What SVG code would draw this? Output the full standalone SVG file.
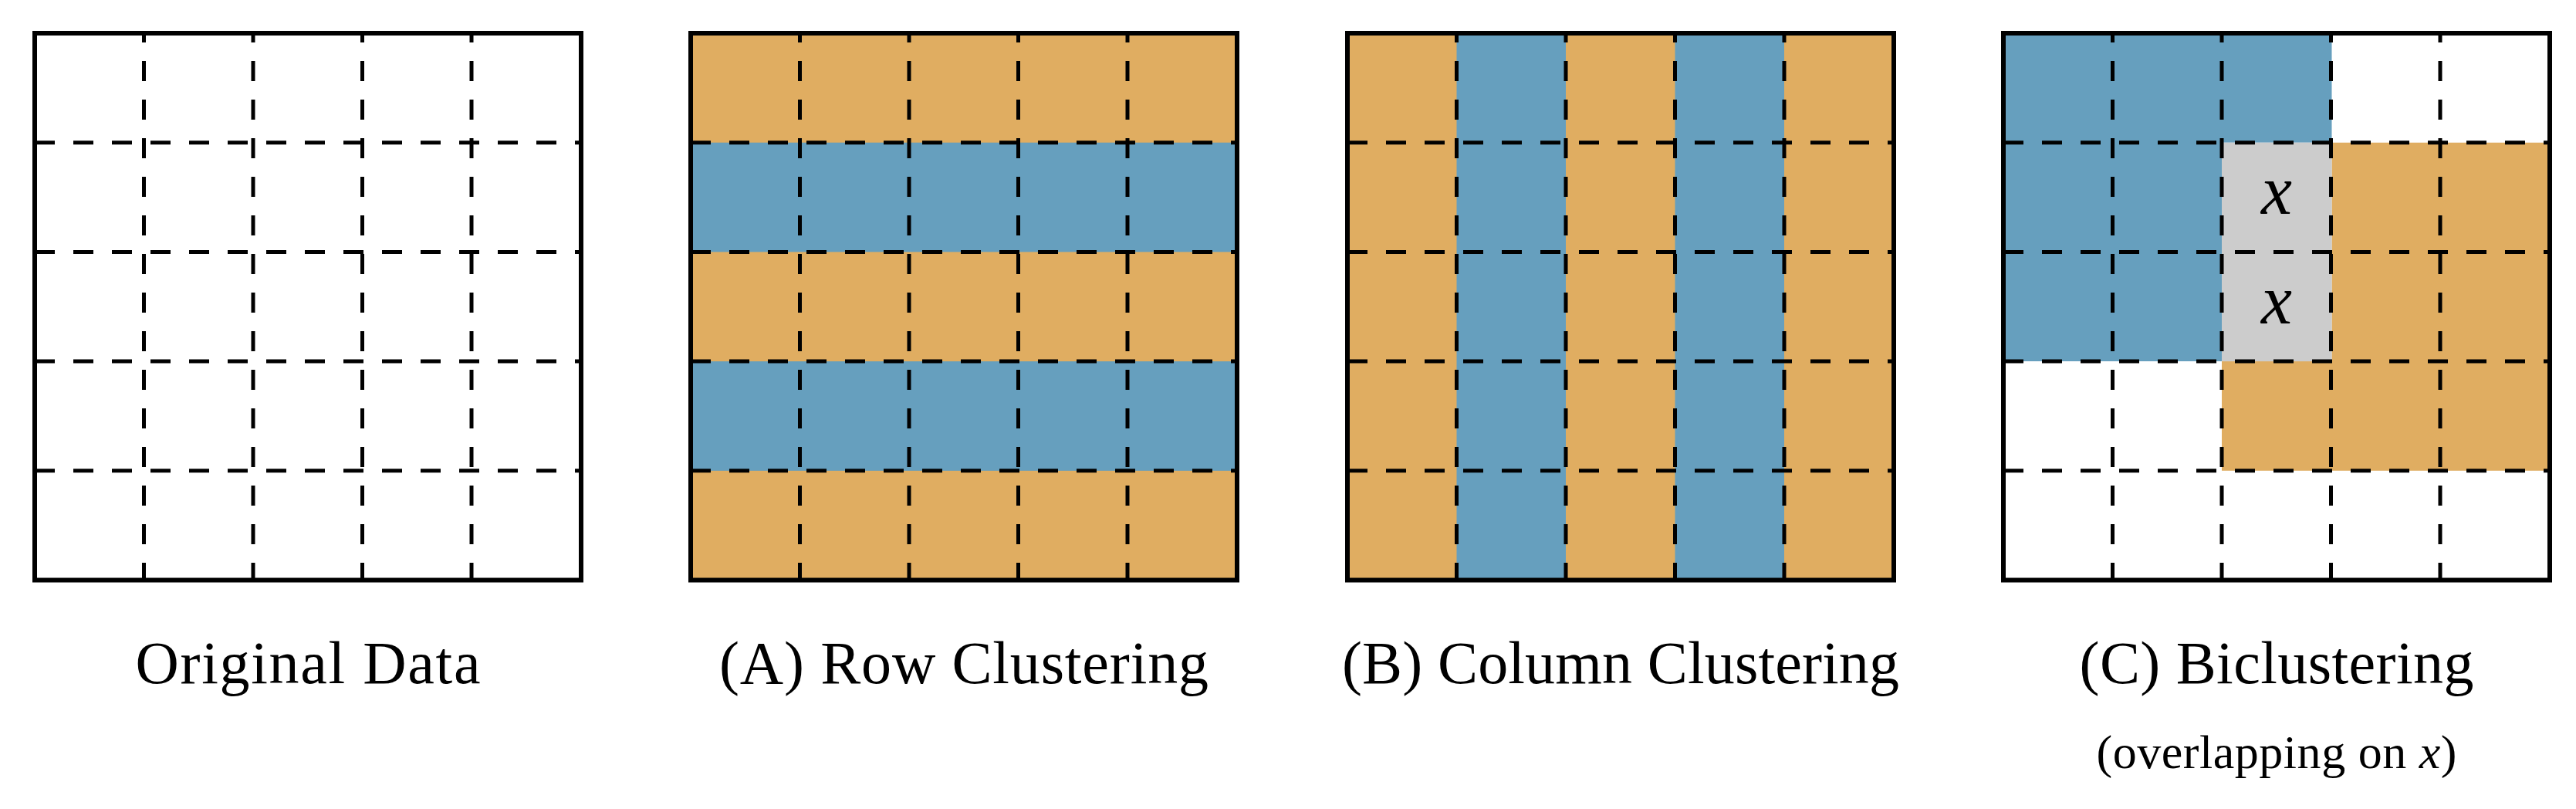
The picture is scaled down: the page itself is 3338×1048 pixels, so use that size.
<svg xmlns="http://www.w3.org/2000/svg" xmlns:xlink="http://www.w3.org/1999/xlink" width="3338" height="1048" viewBox="0 0 3338 1048">
  <style>
    .orange { fill: #E0AD61; }
    .blue { fill: #669FBE; }
    .gray { fill: #CCCCCC; }
    .dash { stroke: #000; stroke-width: 5; stroke-dasharray: 26 24; fill: none; }
    .vdash { stroke-dashoffset: 14; }
    .border { stroke: #000; stroke-width: 6; fill: none; }
    .label { font-family: "Liberation Serif", "DejaVu Serif", serif; font-size: 78px; fill: #000; text-anchor: middle; }
    .sub { font-family: "Liberation Serif", "DejaVu Serif", serif; font-size: 62px; fill: #000; text-anchor: middle; }
    .mathx { font-family: "Liberation Serif", "DejaVu Serif", serif; font-style: italic; font-size: 90px; fill: #000; text-anchor: middle; }
  </style>
  <defs>
    <g id="gridlines">
      <line class="dash vdash" x1="141.5" y1="0" x2="141.5" y2="708.5"/>
      <line class="dash vdash" x1="283" y1="0" x2="283" y2="708.5"/>
      <line class="dash vdash" x1="424.5" y1="0" x2="424.5" y2="708.5"/>
      <line class="dash vdash" x1="566" y1="0" x2="566" y2="708.5"/>
      <line class="dash" x1="0" y1="141.7" x2="708" y2="141.7"/>
      <line class="dash" x1="0" y1="283.4" x2="708" y2="283.4"/>
      <line class="dash" x1="0" y1="425.1" x2="708" y2="425.1"/>
      <line class="dash" x1="0" y1="566.8" x2="708" y2="566.8"/>
      <rect class="border" x="0" y="0" width="708" height="708.5"/>
    </g>
  </defs>

  <g id="original-data" transform="translate(45,43)">
    <use xlink:href="#gridlines" href="#gridlines"/>
    <text class="label" x="354" y="842" textLength="447" lengthAdjust="spacing">Original Data</text>
  </g>

  <g id="row-clustering" transform="translate(895,43)">
    <rect class="orange" x="0" y="0" width="708" height="708.5"/>
    <rect class="blue" x="0" y="141.7" width="708" height="141.7"/>
    <rect class="blue" x="0" y="425.1" width="708" height="141.7"/>
    <use xlink:href="#gridlines" href="#gridlines"/>
    <text class="label" x="354" y="842" textLength="634" lengthAdjust="spacing">(A) Row Clustering</text>
  </g>

  <g id="column-clustering" transform="translate(1746,43)">
    <rect class="orange" x="0" y="0" width="708" height="708.5"/>
    <rect class="blue" x="141.5" y="0" width="141.5" height="708.5"/>
    <rect class="blue" x="424.5" y="0" width="141.5" height="708.5"/>
    <use xlink:href="#gridlines" href="#gridlines"/>
    <text class="label" x="354" y="842" textLength="722" lengthAdjust="spacing">(B) Column Clustering</text>
  </g>

  <g id="biclustering" transform="translate(2596,43)">
    <path class="blue" d="M0,0 H425.5 V141.7 H283 V425.1 H0 Z"/>
    <path class="orange" d="M425.5,141.7 H708 V566.8 H283 V425.1 H425.5 Z"/>
    <rect class="gray" x="283" y="141.7" width="142.5" height="283.4"/>
    <use xlink:href="#gridlines" href="#gridlines"/>
    <text class="mathx" x="354" y="234">x</text>
    <text class="mathx" x="354" y="376">x</text>
    <text class="label" x="354" y="842" textLength="511" lengthAdjust="spacing">(C) Biclustering</text>
    <text class="sub" x="354" y="952" textLength="467" lengthAdjust="spacing">(overlapping on <tspan font-style="italic">x</tspan>)</text>
  </g>

  <g id="connectors"/>
</svg>
